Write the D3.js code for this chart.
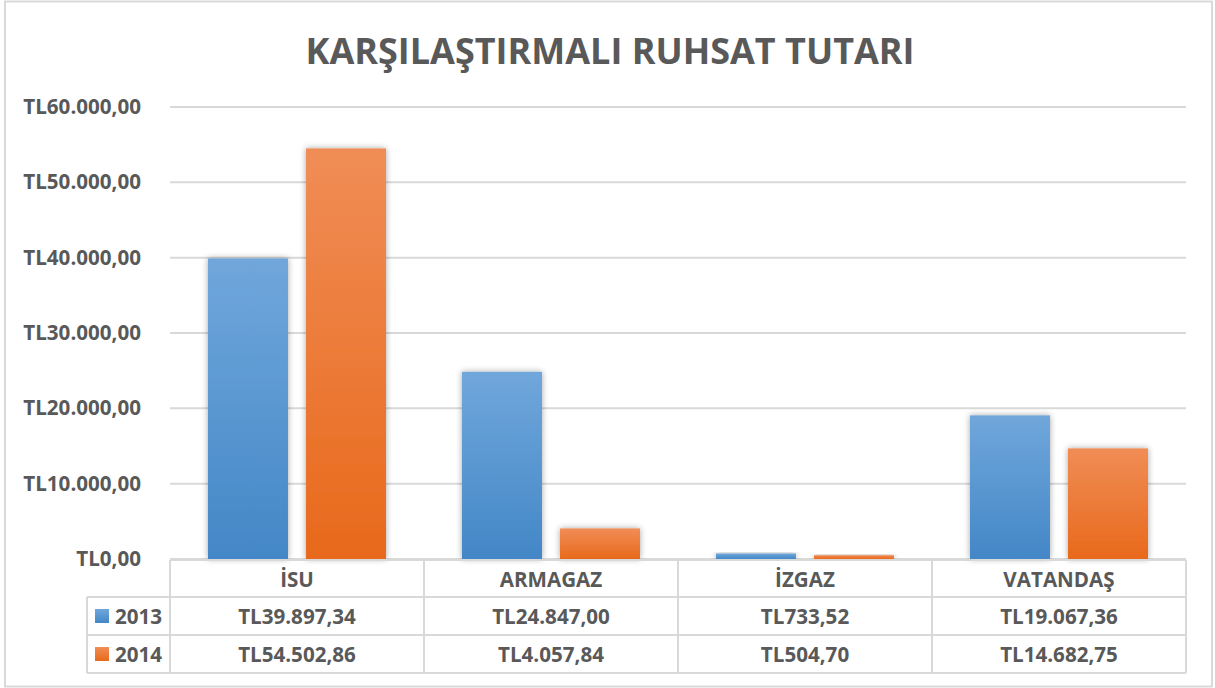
<!DOCTYPE html>
<html>
<head>
<meta charset="utf-8">
<script src="https://cdn.jsdelivr.net/npm/d3@7"></script>
<style>
html,body{margin:0;padding:0;background:#fff;}
svg{display:block;font-family:"Open Sans","Liberation Sans",Arial,sans-serif;}
</style>
</head>
<body>
<svg id="chart" width="1215" height="688"></svg>
<script>
const title = "KARŞILAŞTIRMALI RUHSAT TUTARI";
const categories = ["İSU", "ARMAGAZ", "İZGAZ", "VATANDAŞ"];
const years = ["2013", "2014"];
const values2013 = [39897.34, 24847.00, 733.52, 19067.36];
const values2014 = [54502.86, 4057.84, 504.70, 14682.75];
const yTicks = [0, 10000, 20000, 30000, 40000, 50000, 60000];

const seriesValues = {"2013": values2013, "2014": values2014};
const colors = {"2013": ["#70a7db", "#4387c7"], "2014": ["#f08d56", "#e8691b"]};
const textColor = "#595959";
const gridColor = "#d9d9d9";
const FONT = "Open Sans, Liberation Sans, Arial, sans-serif";
const LABEL_SIZE = 20.6;

const locale = d3.formatLocale({decimal: ",", thousands: ".", grouping: [3], currency: ["TL", ""]});
const fmt = locale.format("$,.2f");

const svg = d3.select("#chart");

// outer border
svg.append("rect").attr("x", 5).attr("y", 1.5).attr("width", 1207).attr("height", 685)
  .attr("fill", "#fff").attr("stroke", gridColor).attr("stroke-width", 2);

const defs = svg.append("defs");
years.forEach(y => {
  const g = defs.append("linearGradient").attr("id", "grad" + y)
    .attr("x1", 0).attr("y1", 0).attr("x2", 0).attr("y2", 1);
  g.append("stop").attr("offset", "0%").attr("stop-color", colors[y][0]);
  g.append("stop").attr("offset", "100%").attr("stop-color", colors[y][1]);
});
const f = defs.append("filter").attr("id", "shadow").attr("x", "-20%").attr("y", "-20%").attr("width", "140%").attr("height", "140%");
f.append("feDropShadow").attr("dx", 0).attr("dy", 0).attr("stdDeviation", 3)
  .attr("flood-color", "#000").attr("flood-opacity", 0.35);

// title
svg.append("text").attr("x", 610).attr("y", 64).attr("text-anchor", "middle")
  .attr("fill", textColor).attr("font-weight", "bold").attr("font-size", 36)
  .attr("font-family", FONT)
  .text(title);

const x0 = d3.scaleBand().domain(categories).range([170, 1186]);
const x1 = d3.scaleBand().domain(years).range([38, 216]).paddingInner(0.184);
const y = d3.scaleLinear().domain([0, 60000]).range([559, 107]);

// gridlines
svg.append("g").selectAll("line").data(yTicks).join("line")
  .attr("x1", 170).attr("x2", 1186)
  .attr("y1", d => y(d)).attr("y2", d => y(d))
  .attr("stroke", gridColor).attr("stroke-width", 2);

// y axis labels
const yAxis = d3.axisLeft(y).tickValues(yTicks).tickFormat(fmt).tickSize(0).tickPadding(0);
const ya = svg.append("g").attr("transform", "translate(141,0)").call(yAxis);
ya.select(".domain").remove();
ya.selectAll("text").attr("fill", textColor).attr("font-weight", "bold")
  .attr("font-size", LABEL_SIZE).attr("font-family", FONT);

// bars
const barsG = svg.append("g");
categories.forEach((c, i) => {
  years.forEach(yr => {
    const v = seriesValues[yr][i];
    barsG.append("rect")
      .attr("x", x0(c) + x1(yr))
      .attr("y", y(v))
      .attr("width", x1.bandwidth())
      .attr("height", y(0) - y(v))
      .attr("fill", `url(#grad${yr})`)
      .attr("filter", "url(#shadow)");
  });
});

// data table
const rowTops = [560, 597, 635, 673];
const tableG = svg.append("g");
const lineAttrs = sel => sel.attr("stroke", gridColor).attr("stroke-width", 2);
tableG.append("line").attr("x1", 170).attr("x2", 1186).attr("y1", rowTops[0]).attr("y2", rowTops[0]).call(lineAttrs);
[1, 2, 3].forEach(k => {
  tableG.append("line").attr("x1", 87).attr("x2", 1186).attr("y1", rowTops[k]).attr("y2", rowTops[k]).call(lineAttrs);
});
const xs = categories.map(c => x0(c)).concat([x0.range()[1]]);
xs.forEach(xv => {
  tableG.append("line").attr("x1", xv).attr("x2", xv).attr("y1", rowTops[0]).attr("y2", rowTops[3]).call(lineAttrs);
});
tableG.append("line").attr("x1", 87).attr("x2", 87).attr("y1", rowTops[1]).attr("y2", rowTops[3]).call(lineAttrs);

const txt = (xv, yv, s, anchor) => tableG.append("text").attr("x", xv).attr("y", yv)
  .attr("text-anchor", anchor || "middle").attr("dominant-baseline", "central")
  .attr("fill", textColor).attr("font-weight", "bold").attr("font-size", LABEL_SIZE)
  .attr("font-family", FONT).text(s);

categories.forEach(c => txt(x0(c) + x0.bandwidth() / 2, (rowTops[0] + rowTops[1]) / 2, c));
years.forEach((yr, r) => {
  const cy = (rowTops[r + 1] + rowTops[r + 2]) / 2;
  tableG.append("rect").attr("x", 95).attr("y", cy - 7).attr("width", 14).attr("height", 14)
    .attr("fill", `url(#grad${yr})`);
  txt(115, cy, yr, "start");
  categories.forEach((c, i) => txt(x0(c) + x0.bandwidth() / 2, cy, fmt(seriesValues[yr][i])));
});
</script>
</body>
</html>
